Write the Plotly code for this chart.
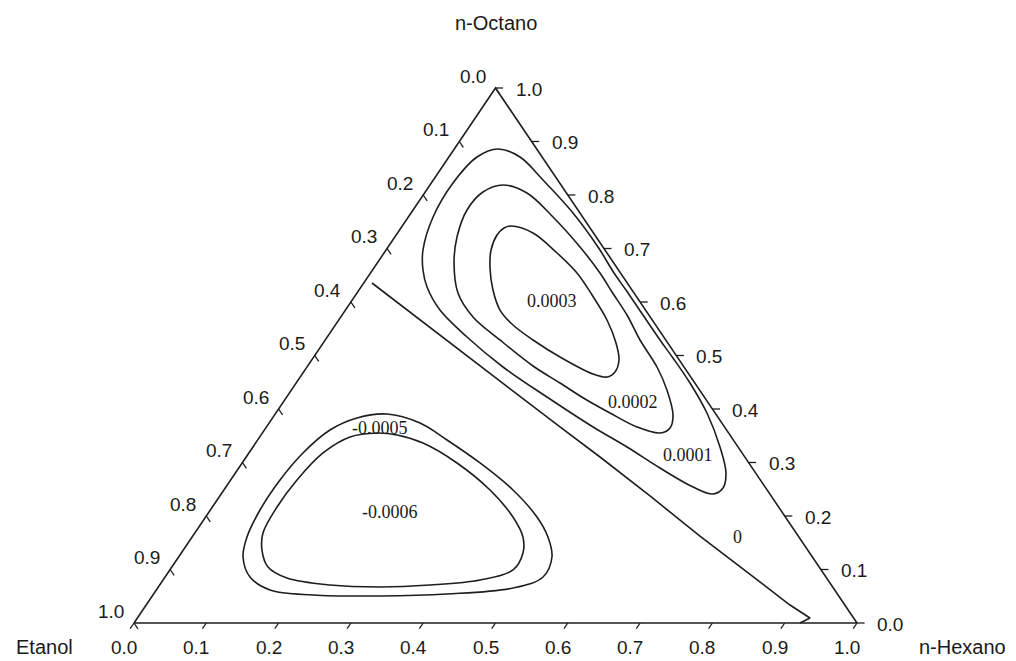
import plotly.graph_objects as go

# ---------------- data (mole fractions) ----------------
tick_values = [0.0, 0.1, 0.2, 0.3, 0.4, 0.5, 0.6, 0.7, 0.8, 0.9, 1.0]
tick_labels = ["0.0", "0.1", "0.2", "0.3", "0.4", "0.5", "0.6", "0.7", "0.8", "0.9", "1.0"]

component_names = ["Etanol", "n-Hexano", "n-Octano"]

# Contour lines: x(n-Hexano), x(n-Octano); x(Etanol) = 1 - both
c_0003_hex = [0.1504, 0.1874, 0.2393, 0.2856, 0.3270, 0.3710, 0.4050, 0.4250, 0.4307, 0.4243,
              0.4022, 0.3406, 0.2874, 0.2457, 0.2137, 0.1853, 0.1606, 0.1452, 0.1395, 0.1426, 0.1504]
c_0003_oct = [0.7421, 0.7290, 0.6916, 0.6542, 0.6131, 0.5664, 0.5234, 0.4916, 0.4692, 0.4598,
              0.4654, 0.4972, 0.5290, 0.5570, 0.5850, 0.6224, 0.6636, 0.6972, 0.7252, 0.7383, 0.7421]

c_0002_hex = [0.1011, 0.1417, 0.2001, 0.2655, 0.3174, 0.3518, 0.3940, 0.4354, 0.4841, 0.5194,
              0.5511, 0.5592, 0.5499, 0.5125, 0.4621, 0.4145, 0.3649, 0.3117, 0.2417, 0.1829,
              0.1397, 0.1062, 0.0860, 0.0746, 0.0799, 0.1011]
c_0002_oct = [0.8187, 0.8037, 0.7589, 0.7028, 0.6542, 0.6187, 0.5757, 0.5290, 0.4785, 0.4355,
              0.3888, 0.3645, 0.3551, 0.3664, 0.3925, 0.4187, 0.4486, 0.4804, 0.5290, 0.5720,
              0.6168, 0.6729, 0.7215, 0.7720, 0.8056, 0.8187]

c_0001_hex = [0.0605, 0.0984, 0.1517, 0.2240, 0.2904, 0.3368, 0.3693, 0.4105, 0.4630, 0.4978,
              0.5447, 0.5962, 0.6460, 0.6786, 0.6885, 0.6802, 0.6461, 0.5826, 0.5174, 0.4517,
              0.3600, 0.2711, 0.1933, 0.1307, 0.0913, 0.0698, 0.0511, 0.0342, 0.0300, 0.0389, 0.0605]
c_0001_oct = [0.8860, 0.8710, 0.8280, 0.7664, 0.7028, 0.6542, 0.6224, 0.5813, 0.5290, 0.4953,
              0.4486, 0.3925, 0.3290, 0.2804, 0.2523, 0.2411, 0.2542, 0.2897, 0.3290, 0.3664,
              0.4224, 0.4785, 0.5346, 0.5850, 0.6280, 0.6598, 0.6972, 0.7589, 0.8224, 0.8710, 0.8860]

c_0_hex = [0.0114, 0.1124, 0.2170, 0.3217, 0.4060, 0.4894, 0.5950, 0.7015, 0.8062, 0.8905, 0.9303, 0.9212]
c_0_oct = [0.6355, 0.5664, 0.4953, 0.4243, 0.3664, 0.3103, 0.2374, 0.1626, 0.0916, 0.0336, 0.0093, 0.0000]

c_m0005_hex = [0.1546, 0.2087, 0.2619, 0.3291, 0.3999, 0.4583, 0.4922, 0.5164, 0.5227, 0.4915,
               0.4058, 0.3150, 0.2214, 0.1573, 0.1174, 0.0891, 0.0759, 0.0687, 0.0683, 0.0748,
               0.0907, 0.1168, 0.1546]
c_m0005_oct = [0.3907, 0.3738, 0.3421, 0.2991, 0.2486, 0.1981, 0.1607, 0.1234, 0.0860, 0.0654,
               0.0542, 0.0505, 0.0523, 0.0617, 0.0860, 0.1234, 0.1607, 0.2112, 0.2673, 0.3178,
               0.3607, 0.3832, 0.3907]

c_m0006_hex = [0.1585, 0.1881, 0.2315, 0.2972, 0.3681, 0.4251, 0.4576, 0.4726, 0.4747, 0.4384,
               0.3739, 0.3066, 0.2356, 0.1695, 0.1330, 0.1088, 0.0943, 0.0894, 0.0918, 0.1025,
               0.1250, 0.1585]
c_m0006_oct = [0.3551, 0.3514, 0.3364, 0.2991, 0.2486, 0.1981, 0.1607, 0.1308, 0.0991, 0.0804,
               0.0710, 0.0673, 0.0710, 0.0841, 0.1047, 0.1364, 0.1682, 0.2168, 0.2673, 0.3178,
               0.3477, 0.3551]

level_labels = ["0.0003", "0.0002", "0.0001", "0", "-0.0005", "-0.0006"]
label_hex = [0.2772, 0.4837, 0.6093, 0.7550, 0.1580, 0.2504]
label_oct = [0.6019, 0.4131, 0.3140, 0.1607, 0.3645, 0.2075]

# ---------------- helpers ----------------
def to_xy(hexv, octv):
    """ternary (n-Hexano, n-Octano) -> cartesian plane of the triangle"""
    return [h + o / 2.0 for h, o in zip(hexv, octv)], list(octv)

LINE = "#1e1e1e"
TXT = "#1a1a1a"
SANS = "Arial, Liberation Sans, sans-serif"
SERIF = "Times New Roman, Liberation Serif, serif"

fig = go.Figure()

# triangle frame: Etanol vertex, n-Hexano vertex, n-Octano vertex
vx, vy = to_xy([0.0, 1.0, 0.0, 0.0], [0.0, 0.0, 1.0, 0.0])
fig.add_trace(go.Scatter(x=vx, y=vy, mode="lines", line=dict(color=LINE, width=1.6),
                         hoverinfo="skip", showlegend=False))

# tick marks
d_in = 0.011
d_out = 0.0105
tk_h, tk_o = [], []
for v in tick_values:
    # left edge (Etanol = v), tick along constant Etanol, inward
    tk_h += [0.0, d_in, None]
    tk_o += [1 - v, 1 - v - d_in, None]
    # bottom edge (n-Hexano = v), tick along constant n-Hexano, outward
    tk_h += [v, v, None]
    tk_o += [0.0, -d_out, None]
    # right edge (n-Octano = v), horizontal tick outward
    tk_h += [1 - v, 1 - v + d_out, None]
    tk_o += [v, v, None]
tx = [None if h is None else h + o / 2.0 for h, o in zip(tk_h, tk_o)]
ty = tk_o
fig.add_trace(go.Scatter(x=tx, y=ty, mode="lines", line=dict(color=LINE, width=1.3),
                         hoverinfo="skip", showlegend=False, connectgaps=False))

# contour lines
closed = [(c_0003_hex, c_0003_oct), (c_0002_hex, c_0002_oct), (c_0001_hex, c_0001_oct),
          (c_m0005_hex, c_m0005_oct), (c_m0006_hex, c_m0006_oct)]
for hh, oo in closed:
    x, y = to_xy(hh, oo)
    fig.add_trace(go.Scatter(x=x, y=y, mode="lines",
                             line=dict(color=LINE, width=1.6, shape="spline", smoothing=1.0),
                             hoverinfo="skip", showlegend=False))
x, y = to_xy(c_0_hex, c_0_oct)
fig.add_trace(go.Scatter(x=x, y=y, mode="lines", line=dict(color=LINE, width=1.6),
                         hoverinfo="skip", showlegend=False))

annotations = []
# contour level labels
lx, ly = to_xy(label_hex, label_oct)
for t, xx, yy in zip(level_labels, lx, ly):
    annotations.append(dict(x=xx, y=yy, text=t, showarrow=False,
                            font=dict(family=SERIF, size=18, color=TXT)))

# tick labels
for v, t in zip(tick_values, tick_labels):
    # Etanol on left edge
    x, y = to_xy([0.0], [1 - v])
    annotations.append(dict(x=x[0], y=y[0], text=t, showarrow=False, xshift=-23, yshift=12,
                            font=dict(family=SANS, size=19, color=TXT)))
    # n-Hexano on bottom edge
    x, y = to_xy([v], [0.0])
    annotations.append(dict(x=x[0], y=y[0], text=t, showarrow=False, xshift=-10, yshift=-24,
                            font=dict(family=SANS, size=19, color=TXT)))
    # n-Octano on right edge
    x, y = to_xy([1 - v], [v])
    annotations.append(dict(x=x[0], y=y[0], text=t, showarrow=False, xshift=33, yshift=-1,
                            font=dict(family=SANS, size=19, color=TXT)))

# component (vertex) titles
title_pos = [([0.0], [0.0], -90, -24), ([1.0], [0.0], 105, -24), ([0.0], [1.0], 0, 65)]
for name, (hh, oo, dx, dy) in zip(component_names, title_pos):
    x, y = to_xy(hh, oo)
    annotations.append(dict(x=x[0], y=y[0], text=name, showarrow=False, xshift=dx, yshift=dy,
                            font=dict(family=SANS, size=20, color=TXT)))

fig.update_layout(
    width=1016, height=661, autosize=False,
    margin=dict(l=0, r=0, t=0, b=0, pad=0),
    paper_bgcolor="white", plot_bgcolor="white",
    xaxis=dict(range=[-134 / 723, 882 / 723], visible=False, fixedrange=True),
    yaxis=dict(range=[-38 / 535, 1 + 88 / 535], visible=False, fixedrange=True),
    annotations=annotations,
    showlegend=False,
)

fig.write_html("out.html", config={"displayModeBar": False},
               post_script="document.body.style.margin='0px';document.body.style.overflow='hidden';")
